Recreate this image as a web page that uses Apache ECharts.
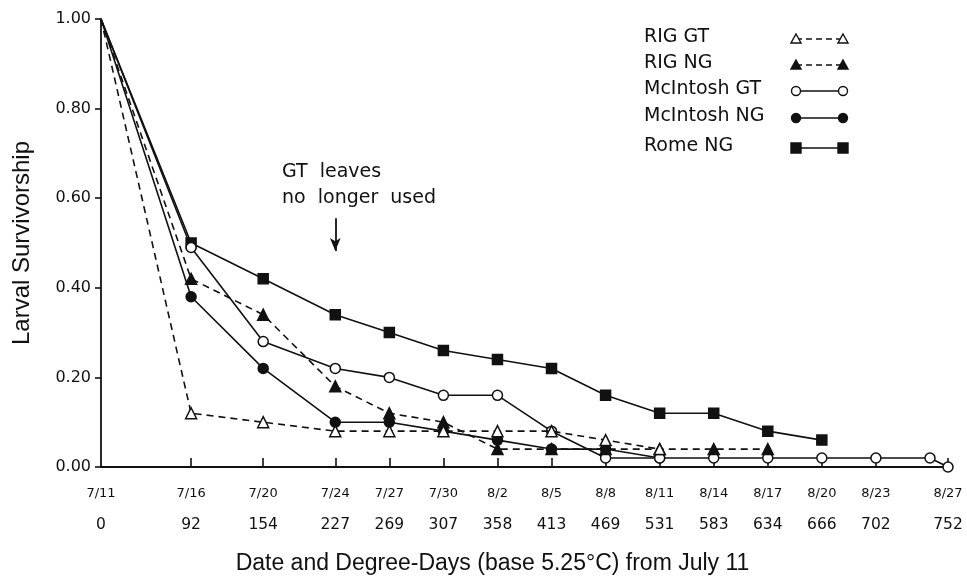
<!DOCTYPE html>
<html>
<head>
<meta charset="utf-8">
<script src="https://cdn.jsdelivr.net/npm/echarts@6/dist/echarts.min.js"></script>
<style>html,body{margin:0;padding:0;background:#fff}#c{width:967px;height:580px}</style>
</head>
<body>
<div id="c"></div>
<script>
// ---- data ----
const dayOffsets = [0, 5, 9, 13, 16, 19, 22, 25, 28, 31, 34, 37, 40, 43, 47];
const dateLabels = ['7/11','7/16','7/20','7/24','7/27','7/30','8/2','8/5','8/8','8/11','8/14','8/17','8/20','8/23','8/27'];
const degreeDays = ['0','92','154','227','269','307','358','413','469','531','583','634','666','702','752'];

const seriesNames = ['RIG GT', 'RIG NG', 'McIntosh GT', 'McIntosh NG', 'Rome NG'];
const rigGT  = [1.00, 0.12, 0.10, 0.08, 0.08, 0.08, 0.08, 0.08, 0.06, 0.04];
const rigNG  = [1.00, 0.42, 0.34, 0.18, 0.12, 0.10, 0.04, 0.04, 0.04, 0.04, 0.04, 0.04];
const mcGTDays = [0, 5, 9, 13, 16, 19, 22, 25, 28, 31, 34, 37, 40, 43, 46, 47];
const mcGT   = [1.00, 0.49, 0.28, 0.22, 0.20, 0.16, 0.16, 0.08, 0.02, 0.02, 0.02, 0.02, 0.02, 0.02, 0.02, 0.00];
const mcNG   = [1.00, 0.38, 0.22, 0.10, 0.10, 0.08, 0.06, 0.04, 0.04, 0.02];
const romeNG = [1.00, 0.50, 0.42, 0.34, 0.30, 0.26, 0.24, 0.22, 0.16, 0.12, 0.12, 0.08, 0.06];

const annotationLines = ['GT  leaves', 'no  longer  used'];
const arrowDay = 13;
const arrowFrom = 0.555, arrowTo = 0.482;

// ---- styles ----
const INK = '#111';
const tickFont = 'DejaVu Sans';
const styles = [
  {symbol: 'triangle', fill: '#fff', dash: [7, 5]},
  {symbol: 'triangle', fill: INK, dash: [7, 5]},
  {symbol: 'circle', fill: '#fff', dash: 'solid'},
  {symbol: 'circle', fill: INK, dash: 'solid'},
  {symbol: 'rect', fill: INK, dash: 'solid'}
];
const values = [rigGT, rigNG, mcGT, mcNG, romeNG];
const xsFor = [dayOffsets, dayOffsets, mcGTDays, dayOffsets, dayOffsets];

function buildData(xs, vs) {
  return vs.map((v, i) => {
    const item = {value: [xs[i], v]};
    if (i === 0) item.symbol = 'none';
    return item;
  });
}

const series = values.map((vs, k) => ({
  name: seriesNames[k],
  type: 'line',
  data: buildData(xsFor[k], vs),
  symbol: styles[k].symbol,
  symbolSize: styles[k].symbol === 'triangle' ? 11 : 10,
  z: 10 - k,
  lineStyle: {color: INK, width: 1.6, type: styles[k].dash},
  itemStyle: {color: styles[k].fill, borderColor: INK, borderWidth: 1.5},
  emphasis: {disabled: true},
  animation: false
}));

// arrow annotation
series[3].markLine = {
  silent: true,
  symbol: ['none', 'arrow'],
  symbolSize: [8, 13],
  label: {show: false},
  lineStyle: {color: INK, width: 1.8, type: 'solid'},
  data: [[{coord: [arrowDay, arrowFrom]}, {coord: [arrowDay, arrowTo]}]]
};

// custom legend (text + line with markers at both ends)
const legendRowsY = [39, 65, 91, 118, 148];
const legendGraphics = [];
seriesNames.forEach((name, k) => {
  const y = legendRowsY[k];
  legendGraphics.push({
    type: 'text', left: 644, top: y - 11,
    style: {text: name, font: '19px "DejaVu Sans"', fill: INK}
  });
  legendGraphics.push({
    type: 'line', shape: {x1: 796, y1: y, x2: 843, y2: y},
    style: {stroke: INK, lineWidth: 1.6, lineDash: styles[k].dash === 'solid' ? null : [6, 4]}
  });
  [796, 843].forEach(cx => {
    let g;
    const st = {fill: styles[k].fill, stroke: INK, lineWidth: 1.4};
    if (styles[k].symbol === 'circle') {
      g = {type: 'circle', shape: {cx: cx, cy: y, r: 4.5}, style: st, z: 20};
    } else if (styles[k].symbol === 'rect') {
      g = {type: 'rect', shape: {x: cx - 5, y: y - 5, width: 10, height: 10}, style: st, z: 20};
    } else {
      g = {type: 'polygon', shape: {points: [[cx, y - 5], [cx + 5, y + 4], [cx - 5, y + 4]]}, style: st, z: 20};
    }
    legendGraphics.push(g);
  });
});
annotationLines.forEach((t, i) => {
  legendGraphics.push({
    type: 'text', left: 282, top: 163 + i * 26,
    style: {text: t, font: '19px "DejaVu Sans"', fill: INK}
  });
});

const chart = echarts.init(document.getElementById('c'), null, {renderer: 'canvas'});
chart.setOption({
  backgroundColor: '#fff',
  animation: false,
  grid: {left: 101, right: 19, top: 19, bottom: 111, containLabel: false},
  xAxis: {
    type: 'value', min: 0, max: 47,
    name: 'Date and Degree-Days (base 5.25°C) from July 11',
    nameLocation: 'middle', nameGap: 85,
    nameTextStyle: {fontFamily: 'Liberation Sans, Arial', fontSize: 23, color: INK, padding: [0, 64, 0, 0]},
    axisLine: {show: true, lineStyle: {color: INK, width: 1.8}},
    splitLine: {show: false},
    axisTick: {show: true, inside: true, length: 9, lineStyle: {color: INK, width: 1.6}, customValues: dayOffsets.slice(1)},
    axisLabel: {
      customValues: dayOffsets,
      margin: 11,
      formatter: function (v) {
        const i = dayOffsets.indexOf(Math.round(v));
        return '{d|' + dateLabels[i] + '}\n{n|' + degreeDays[i] + '}';
      },
      rich: {
        d: {fontFamily: tickFont, fontSize: 13, lineHeight: 31, color: INK},
        n: {fontFamily: tickFont, fontSize: 15.5, lineHeight: 31, color: INK}
      }
    }
  },
  yAxis: {
    type: 'value', min: 0, max: 1, interval: 0.2,
    name: 'Larval Survivorship',
    nameLocation: 'middle', nameGap: 67,
    nameTextStyle: {fontFamily: 'Liberation Sans, Arial', fontSize: 24, color: INK},
    axisLine: {show: true, lineStyle: {color: INK, width: 1.8}},
    splitLine: {show: false},
    axisTick: {show: true, inside: false, length: 6, lineStyle: {color: INK, width: 1.6}},
    axisLabel: {
      margin: 10, fontFamily: tickFont, fontSize: 16, color: INK,
      formatter: v => v.toFixed(2)
    }
  },
  graphic: legendGraphics,
  series: series
});
</script>
</body>
</html>
